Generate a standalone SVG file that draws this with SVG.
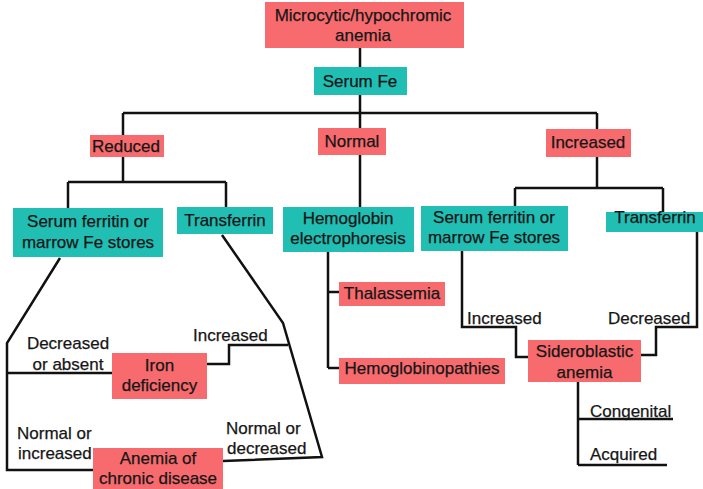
<svg xmlns="http://www.w3.org/2000/svg" width="703" height="489" viewBox="0 0 703 489">
<style>
.p{fill:#F76B6E}
.t{fill:#21BEB3}
text{font-family:"Liberation Sans",Arial,sans-serif;font-size:17px;fill:#161616;stroke:#161616;stroke-width:0.25}
.c{text-anchor:middle}
.ln{fill:none;stroke:#111;stroke-width:2.5;stroke-linejoin:miter}
</style>
<rect width="703" height="489" fill="#fff"/>
<g id="connectors" class="ln">
<path d="M360,48V67M360,95V113M123,113H597M123,113V135M360,113V128M597,113V129"/>
<path d="M123,157V182M68,182H226M68,182V208M226,182V207"/>
<path d="M360,155V207M328,252V368M328,292H339M328,368H339"/>
<path d="M597,157V188M515,188H663M515,188V206M663,188V212"/>
<path d="M60,258L7,343V470H93M7,373H112"/>
<path d="M222,235L283,323L322,457L223,461M288,345H229V364H207"/>
<path d="M462,251V327H516V357H528"/>
<path d="M697,232V327H656V355H641"/>
<path d="M578,382V465M578,419H673M578,465H667"/>
</g>
<g id="n-top"><rect class="p" x="265" y="2" width="199" height="46"/><text class="c" x="363" y="21">Microcytic/hypochromic</text><text class="c" x="363" y="41">anemia</text></g>
<g id="n-serumfe"><rect class="t" x="314" y="67" width="93" height="28"/><text class="c" x="360" y="87">Serum Fe</text></g>
<g id="n-reduced"><rect class="p" x="90" y="135" width="74" height="22"/><text class="c" x="126" y="152">Reduced</text></g>
<g id="n-normal"><rect class="p" x="318" y="128" width="68" height="27"/><text class="c" x="352" y="147">Normal</text></g>
<g id="n-increased"><rect class="p" x="546" y="129" width="85" height="28"/><text class="c" x="588" y="148">Increased</text></g>
<g id="n-ferritin-l"><rect class="t" x="13" y="208" width="150" height="49"/><text class="c" x="88" y="227">Serum ferritin or</text><text class="c" x="88" y="248">marrow Fe stores</text></g>
<g id="n-transferrin-l"><rect class="t" x="177" y="207" width="96" height="27"/><text class="c" x="225" y="226">Transferrin</text></g>
<g id="n-hemoglobin"><rect class="t" x="283" y="207" width="131" height="45"/><text class="c" x="348" y="224">Hemoglobin</text><text class="c" x="348" y="244">electrophoresis</text></g>
<g id="n-ferritin-r"><rect class="t" x="421" y="206" width="147" height="45"/><text class="c" x="494" y="223">Serum ferritin or</text><text class="c" x="494" y="243">marrow Fe stores</text></g>
<g id="n-transferrin-r"><rect class="t" x="606" y="212" width="97" height="20"/><text class="c" x="655" y="223">Transferrin</text></g>
<g id="n-thalassemia"><rect class="p" x="339" y="282" width="106" height="24"/><text class="c" x="392" y="299">Thalassemia</text></g>
<g id="n-hemoglobinopathies"><rect class="p" x="339" y="358" width="166" height="26"/><text class="c" x="422" y="374">Hemoglobinopathies</text></g>
<g id="n-sideroblastic"><rect class="p" x="528" y="340" width="113" height="42"/><text class="c" x="584.5" y="357">Sideroblastic</text><text class="c" x="584.5" y="378">anemia</text></g>
<g id="n-iron"><rect class="p" x="112" y="353" width="95" height="46"/><text class="c" x="159.5" y="371">Iron</text><text class="c" x="159.5" y="391">deficiency</text></g>
<g id="n-acd"><rect class="p" x="93" y="448" width="130" height="41"/><text class="c" x="158" y="464">Anemia of</text><text class="c" x="158" y="484">chronic disease</text></g>
<g id="labels">
<text class="c" x="68" y="349">Decreased</text><text class="c" x="68" y="370">or absent</text>
<text x="193" y="341">Increased</text>
<text x="17" y="439">Normal or</text><text x="18" y="459">increased</text>
<text x="226" y="434">Normal or</text><text x="227" y="454">decreased</text>
<text x="467" y="324">Increased</text>
<text x="608" y="324">Decreased</text>
<text x="590" y="417">Congenital</text>
<text x="590" y="460">Acquired</text>
</g>
</svg>
